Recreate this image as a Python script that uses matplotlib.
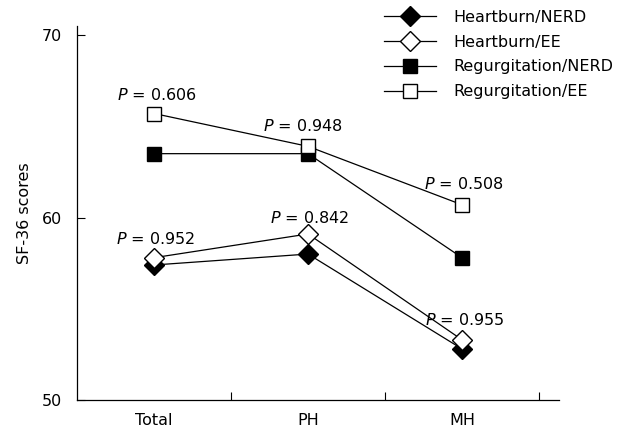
import matplotlib
matplotlib.use("Agg")
import matplotlib.pyplot as plt

categories = ["Total", "PH", "MH"]
heartburn_nerd = [57.4, 58.0, 52.8]
heartburn_ee = [57.8, 59.1, 53.3]
regurg_nerd = [63.5, 63.5, 57.8]
regurg_ee = [65.7, 63.9, 60.7]

p_labels = ["0.606", "0.948", "0.508", "0.952", "0.842", "0.955"]
p_x = [-0.24, 0.71, 1.75, -0.25, 0.75, 1.76]
p_y = [66.7, 65.0, 61.85, 58.8, 60.0, 54.4]

FONT = 11.5

plt.rcParams["font.family"] = ["DejaVu Sans"]
plt.rcParams["mathtext.fontset"] = "dejavusans"

fig = plt.figure(figsize=(6.17, 4.32), dpi=100)
ax = fig.add_axes([0.125, 0.074, 0.781, 0.866])

x = list(range(len(categories)))
series = [
    ("Heartburn/NERD", heartburn_nerd, "D", "black"),
    ("Heartburn/EE", heartburn_ee, "D", "white"),
    ("Regurgitation/NERD", regurg_nerd, "s", "black"),
    ("Regurgitation/EE", regurg_ee, "s", "white"),
]
for label, values, marker, face in series:
    ax.plot(
        x, values,
        color="black", linewidth=0.9,
        marker=marker, markersize=10.5 if marker == "D" else 9.5,
        markerfacecolor=face, markeredgecolor="black", markeredgewidth=1.0,
        label=label,
    )

for text, tx, ty in zip(p_labels, p_x, p_y):
    ax.text(tx, ty, r"$\it{P}$ = " + text, fontsize=FONT, va="center", ha="left")

ax.set_xlim(-0.5, 2.63)
ax.set_ylim(50, 70.5)
ax.set_yticks([50, 60, 70])
ax.tick_params(axis="y", direction="in", length=6, width=0.8, pad=11, labelsize=FONT)

ax.set_xticks([0.5, 1.5, 2.5])
ax.set_xticklabels([])
ax.tick_params(axis="x", which="major", direction="in", length=6, width=0.8)
ax.set_xticks(x, categories, minor=True)
ax.tick_params(axis="x", which="minor", length=0, pad=9, labelsize=FONT)

for side in ["top", "right"]:
    ax.spines[side].set_visible(False)
for side in ["left", "bottom"]:
    ax.spines[side].set_linewidth(0.9)

ax.set_ylabel("SF-36 scores", fontsize=FONT, labelpad=7)

ax.legend(
    loc="upper right", bbox_to_anchor=(1.0, 0.985), bbox_transform=fig.transFigure,
    frameon=False, fontsize=FONT, handlelength=3.3, handletextpad=1.1,
    labelspacing=0.62, borderpad=0.2, borderaxespad=0.0,
)

fig.savefig("out.png", dpi=100)
